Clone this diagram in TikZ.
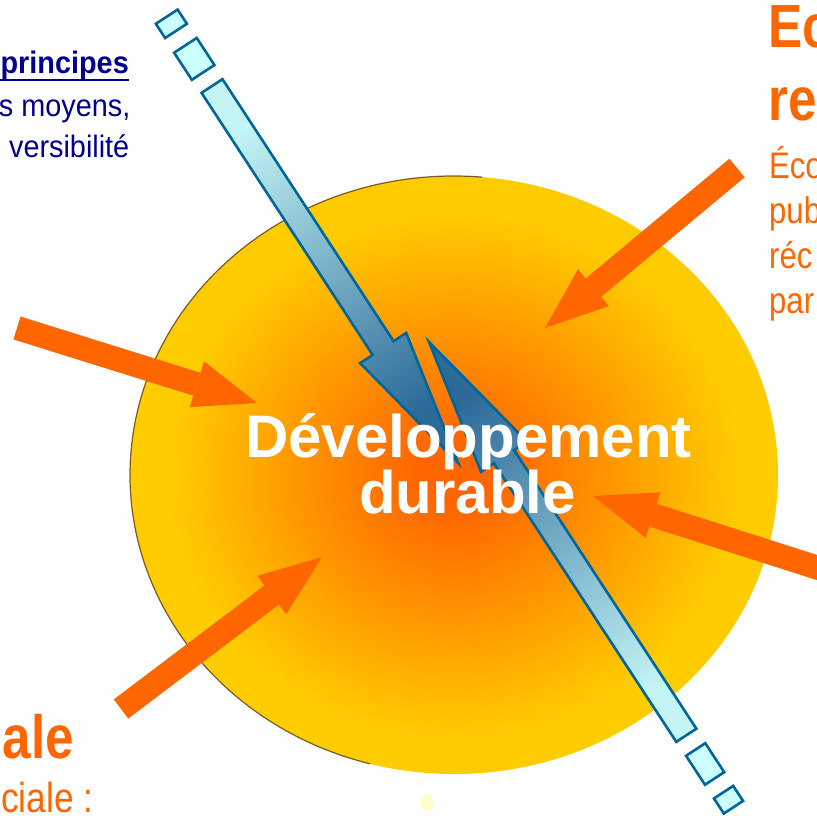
\documentclass[tikz,border=0pt]{standalone}
\usepackage{fontspec}
\setmainfont{Liberation Sans}
\newfontfamily\narrowfont[FakeStretch=0.84]{Liberation Sans}
\newfontfamily\bluefont[FakeStretch=0.93]{Liberation Sans}
\usetikzlibrary{arrows.meta, positioning}

\definecolor{sunred}{RGB}{255,102,0}
\definecolor{sunmid}{RGB}{255,150,0}
\definecolor{sunyel}{RGB}{255,204,0}
\definecolor{orng}{RGB}{255,102,0}
\definecolor{darknavy}{RGB}{0,0,140}
\definecolor{arrowedge}{RGB}{0,102,153}
\definecolor{palecyan}{RGB}{204,255,255}
\definecolor{lightbar}{RGB}{196,244,244}
\definecolor{steel}{RGB}{44,106,152}
\definecolor{paledot}{RGB}{255,255,204}
\definecolor{rim}{RGB}{80,45,15}

\pgfdeclareradialshading{sunglow}{\pgfpoint{0bp}{0bp}}{color(0bp)=(sunred); color(3bp)=(sunred); color(12bp)=(sunmid); color(22bp)=(sunyel); color(50bp)=(sunyel)}

\begin{document}
\begin{tikzpicture}[x=1pt, y=-1pt,
    forcearrow/.style={draw=orng, line width=24pt, -{Triangle[length=63pt, width=48pt, line width=0pt]}},
    bluebar/.style={draw=arrowedge, line width=2.6pt, line join=miter},
    dashbox/.style={bluebar, fill=palecyan},
    orangetitle/.style={text=orng, inner sep=0pt, font=\narrowfont\bfseries\fontsize{61}{61}\selectfont},
    orangebody/.style={text=orng, inner sep=0pt, font=\narrowfont\fontsize{37}{37}\selectfont},
    bluebody/.style={text=darknavy, inner sep=0pt, font=\bluefont\fontsize{31}{31}\selectfont},
    centertext/.style={text=white, inner sep=0pt, font=\bfseries\fontsize{60}{60}\selectfont}]
  \useasboundingbox (0,0) rectangle (817,815);
  \clip (0,0) rectangle (817,815);

  \shade[shading=sunglow] (454,475) ellipse [x radius=324, y radius=299];
  \draw[rim, opacity=0.75, line width=1.2pt] (454,475) ++(275:324 and 299)
    arc[start angle=275, end angle=105, x radius=324, y radius=299];

  \begin{scope}[shift={(212,86)}, rotate=-56.85]
    \draw[dashbox] (-82.8,-13) rectangle (-65.8,13);
    \draw[dashbox] (-48.6,-13.5) rectangle (-16.2,13.5);
    \draw[bluebar, top color=lightbar, bottom color=steel, shading angle=33]
      (0,-12.5) -- (313,-12.5) -- (313,-27.5) -- (450,0) -- (313,27.5) -- (313,12.5) -- (0,12.5) -- cycle;
  \end{scope}
  \begin{scope}[shift={(429,342)}, rotate=-56.8]
    \draw[bluebar, top color=steel, bottom color=lightbar, shading angle=33]
      (0,0) -- (137,-27.5) -- (137,-12) -- (470,-12) -- (470,12) -- (137,12) -- (137,27.5) -- cycle;
    \draw[dashbox] (487,-11.5) rectangle (521.6,11.5);
    \draw[dashbox] (538,-11.5) rectangle (556,11.5);
  \end{scope}

  \coordinate (ectail) at (737,168);
  \coordinate (ectip)  at (545,328);
  \coordinate (lftail) at (17,328);
  \coordinate (lftip)  at (257,403);
  \coordinate (rttail) at (831,572);
  \coordinate (rttip)  at (593,496);
  \coordinate (sotail) at (121,709);
  \coordinate (sotip)  at (322,557);
  \draw[forcearrow] (ectail) -- (ectip);
  \draw[forcearrow] (lftail) -- (lftip);
  \draw[forcearrow] (rttail) -- (rttip);
  \draw[forcearrow] (sotail) -- (sotip);

  \node[centertext, anchor=base] (devnode) at (468.5,457) {Développement};
  \node[centertext, anchor=base] (durnode) at (467.5,513) {durable};

  \node[orangetitle, anchor=base west] (ectitle) at (768,47) {Ec};
  \node[orangetitle, anchor=base west] (retitle) at (768,120) {re};
  \node[orangebody, anchor=base west] (ecoline) at (769,178) {Éco};
  \node[orangebody, anchor=base west] (publine) at (769,223) {pub};
  \node[orangebody, anchor=base west] (recline) at (769,268) {réc};
  \node[orangebody, anchor=base west] (parline) at (769,313) {par};

  \node[orangetitle, anchor=base east] (aletitle) at (74,758) {ale};
  \node[orangebody, anchor=base east, font=\narrowfont\fontsize{42}{42}\selectfont] (cialeline) at (93.5,812) {ciale :};

  \node[bluebody, anchor=base east, font=\bluefont\bfseries\fontsize{31}{31}\selectfont] (princnode) at (129,73) {principes};
  \draw[darknavy, line width=2.4pt] ([yshift=-7pt]princnode.base west) -- ([yshift=-7pt]princnode.base east);
  \node[bluebody, anchor=base east] (moyensnode) at (130.5,116) {s moyens,};
  \node[bluebody, anchor=base east] (versnode) at (129.5,157) {versibilité};

  \fill[paledot] (427,802) ellipse [x radius=6.5, y radius=8.5];
\end{tikzpicture}
\end{document}
